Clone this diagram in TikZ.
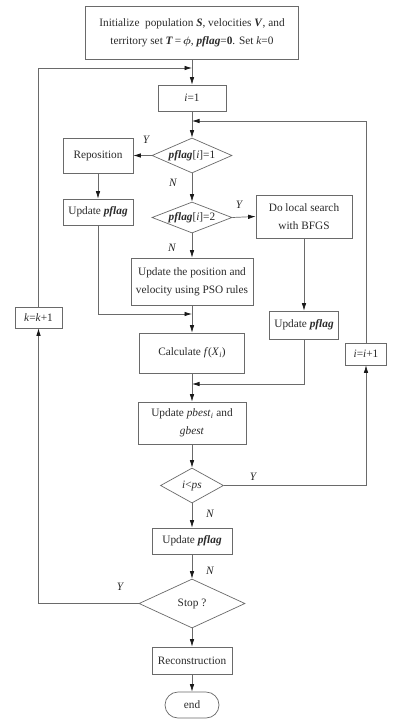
\documentclass[tikz,border=0pt]{standalone}
\usepackage{amsmath}
\usepackage{fontspec}
\setmainfont{Liberation Serif}
\usetikzlibrary{shapes.geometric,arrows.meta}
\definecolor{ln}{HTML}{6A6A6A}
\definecolor{tx}{HTML}{2A2A2A}
\newcommand{\bi}[1]{\textbf{\textit{#1}}}
\begin{document}
\begin{tikzpicture}[x=1pt,y=-1pt,
  font=\fontsize{11.3}{18}\selectfont, text=tx,
  box/.style={draw=ln, line width=0.7pt, rectangle, align=center, inner sep=0pt},
  dia/.style={draw=ln, line width=0.7pt, diamond, align=center, inner sep=0pt},
  term/.style={draw=ln, line width=0.7pt, rectangle, rounded corners=13pt, align=center, inner sep=0pt},
  arr/.style={draw=ln, line width=0.7pt, -{Latex[length=7.5pt,width=4.5pt,color=black!90]}},
  lbl/.style={font=\fontsize{11.3}{13}\selectfont\itshape, inner sep=0pt}
]
\fill[white] (0,0) rectangle (402,728);
\useasboundingbox (0,0) rectangle (402,728);

% nodes
\node[box, minimum width=213pt, minimum height=53pt] (init) at (192,32.5)
  {Initialize\ \ population \bi{S}, velocities \bi{V}, and\\territory set \bi{T}\,=\,$\boldsymbol{\phi}$, \bi{pflag}=\textbf{0}. Set \textit{k}=0};
\node[box, minimum width=68pt, minimum height=26pt] (i1) at (192,98) {\textit{i}=1};
\node[dia, minimum width=80pt, minimum height=35pt, aspect=2.29] (d1) at (192,155.5) {\bi{pflag}[\textit{i}]=1};
\node[box, minimum width=70pt, minimum height=35pt] (repo) at (98,155.5) {Reposition};
\node[box, minimum width=70pt, minimum height=26pt] (upl) at (98,212) {Update \bi{pflag}};
\node[dia, minimum width=80pt, minimum height=31pt, aspect=2.58] (d2) at (192,217.5) {\bi{pflag}[\textit{i}]=2};
\node[box, minimum width=96pt, minimum height=43pt] (bfgs) at (304,216.5) {Do local search\\with BFGS};
\node[box, minimum width=122pt, minimum height=47pt] (pso) at (192,281.5) {Update the position and\\velocity using PSO rules};
\node[box, minimum width=47pt, minimum height=21pt] (kk) at (38.5,317.5) {\textit{k}=\textit{k}+1};
\node[box, minimum width=69pt, minimum height=28pt] (updR) at (304,325) {Update \bi{pflag}};
\node[box, minimum width=105pt, minimum height=40pt] (calc) at (192,353) {Calculate \textit{f}(\textit{X}$_{\textit{i}}$)};
\node[box, minimum width=41pt, minimum height=22pt] (ii) at (366,354) {\textit{i}=\textit{i}+1};
\node[box, minimum width=108pt, minimum height=42pt] (pbest) at (192,423) {Update \textit{pbest}$_{\textit{i}}$ and\\\textit{gbest}};
\node[dia, minimum width=63pt, minimum height=35pt, aspect=1.8] (d3) at (192,485.5) {\textit{i}<\textit{ps}};
\node[box, minimum width=80pt, minimum height=26pt] (upl2) at (192,541) {Update \bi{pflag}};
\node[dia, minimum width=106pt, minimum height=49pt, aspect=2.16] (stop) at (192,603.5) {Stop ?};
\node[box, minimum width=80pt, minimum height=27pt] (recon) at (192,660.5) {Reconstruction};
\node[term, minimum width=54pt, minimum height=26pt] (end) at (192,705) {end};

% junction points
\coordinate (j1) at (192,68);
\coordinate (j2) at (192,121);
\coordinate (j3) at (192,314);
\coordinate (j4) at (192,384);

% connectors
\draw[arr] (init.south) -- (i1.north);
\draw[arr] (kk.north) |- (j1);
\draw[arr] (i1.south) -- (d1.north);
\draw[arr] (ii.north) |- (j2);
\draw[arr] (d1.west) -- (repo.east);
\draw[arr] (d1.south) -- (d2.north);
\draw[arr] (repo.south) -- (upl.north);
\draw[arr] (d2.east) -- (bfgs.west);
\draw[arr] (d2.south) -- (pso.north);
\draw[arr] (upl.south) |- (j3);
\draw[arr] (pso.south) -- (calc.north);
\draw[arr] (bfgs.south) -- (updR.north);
\draw[arr] (updR.south) |- (j4);
\draw[arr] (calc.south) -- (pbest.north);
\draw[arr] (pbest.south) -- (d3.north);
\draw[arr] (d3.east) -| (ii.south);
\draw[arr] (d3.south) -- (upl2.north);
\draw[arr] (upl2.south) -- (stop.north);
\draw[arr] (stop.south) -- (recon.north);
\draw[arr] (recon.south) -- (end.north);
\draw[arr] (stop.west) -| (kk.south);

% labels
\node[lbl] (y1) at (146,140) {Y};
\node[lbl] (n1) at (173,183) {N};
\node[lbl] (y2) at (239,205) {Y};
\node[lbl] (n2) at (172,248) {N};
\node[lbl] (y3) at (253,477) {Y};
\node[lbl] (n3) at (210,514) {N};
\node[lbl] (n4) at (210,571) {N};
\node[lbl] (y4) at (120,587) {Y};
\end{tikzpicture}
\end{document}
